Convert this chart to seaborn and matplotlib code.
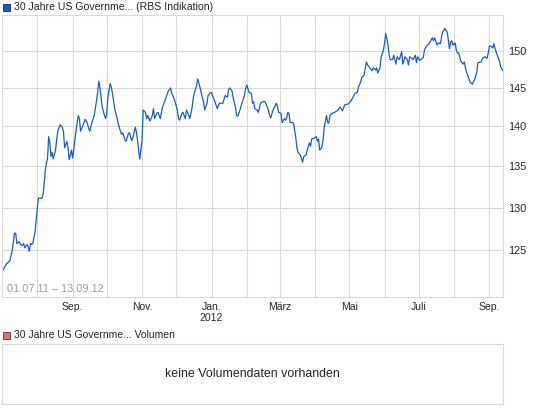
import matplotlib
matplotlib.use("Agg")
import matplotlib.pyplot as plt
import matplotlib.dates as mdates
from matplotlib.patches import Rectangle
from matplotlib.ticker import FixedLocator, FixedFormatter, NullLocator
import pandas as pd
import seaborn as sns

dates = [
    "2011-07-02", "2011-07-05", "2011-07-07", "2011-07-08", "2011-07-10", "2011-07-11", "2011-07-12", "2011-07-13",
    "2011-07-14", "2011-07-16", "2011-07-18", "2011-07-19", "2011-07-20", "2011-07-21", "2011-07-23", "2011-07-24",
    "2011-07-25", "2011-07-26", "2011-07-27", "2011-07-28", "2011-07-30", "2011-07-31",
    "2011-08-01", "2011-08-02", "2011-08-05", "2011-08-06", "2011-08-07", "2011-08-08", "2011-08-09", "2011-08-10",
    "2011-08-11", "2011-08-12", "2011-08-13", "2011-08-14", "2011-08-15", "2011-08-17", "2011-08-18", "2011-08-19",
    "2011-08-21", "2011-08-23", "2011-08-24", "2011-08-25", "2011-08-27", "2011-08-28", "2011-08-29", "2011-08-31",
    "2011-09-01", "2011-09-02", "2011-09-03", "2011-09-05", "2011-09-06", "2011-09-07", "2011-09-08", "2011-09-10",
    "2011-09-12", "2011-09-14", "2011-09-15", "2011-09-16", "2011-09-18", "2011-09-20", "2011-09-22", "2011-09-23",
    "2011-09-24", "2011-09-25", "2011-09-26", "2011-09-27", "2011-09-29", "2011-09-30",
    "2011-10-01", "2011-10-02", "2011-10-04", "2011-10-05", "2011-10-06", "2011-10-07", "2011-10-08", "2011-10-10",
    "2011-10-11", "2011-10-13", "2011-10-14", "2011-10-15", "2011-10-17", "2011-10-18", "2011-10-20", "2011-10-21",
    "2011-10-22", "2011-10-23", "2011-10-24", "2011-10-26", "2011-10-27", "2011-10-28", "2011-10-29", "2011-10-30",
    "2011-10-31",
    "2011-11-01", "2011-11-02", "2011-11-04", "2011-11-05", "2011-11-06", "2011-11-08", "2011-11-10", "2011-11-11",
    "2011-11-12", "2011-11-14", "2011-11-15", "2011-11-17", "2011-11-19", "2011-11-21", "2011-11-24", "2011-11-26",
    "2011-11-27", "2011-11-28", "2011-11-30",
    "2011-12-02", "2011-12-03", "2011-12-04", "2011-12-06", "2011-12-07", "2011-12-09", "2011-12-10", "2011-12-11",
    "2011-12-13", "2011-12-15", "2011-12-16", "2011-12-17", "2011-12-19", "2011-12-20", "2011-12-22", "2011-12-24",
    "2011-12-25", "2011-12-26", "2011-12-28", "2011-12-29", "2011-12-31",
    "2012-01-01", "2012-01-02", "2012-01-04", "2012-01-06", "2012-01-08", "2012-01-10", "2012-01-11", "2012-01-13",
    "2012-01-15", "2012-01-16", "2012-01-17", "2012-01-19", "2012-01-20", "2012-01-22", "2012-01-23", "2012-01-24",
    "2012-01-26", "2012-01-28", "2012-01-30", "2012-01-31",
    "2012-02-01", "2012-02-03", "2012-02-05", "2012-02-06", "2012-02-07", "2012-02-08", "2012-02-10", "2012-02-11",
    "2012-02-12", "2012-02-13", "2012-02-15", "2012-02-17", "2012-02-19", "2012-02-20", "2012-02-21", "2012-02-22",
    "2012-02-24", "2012-02-27", "2012-02-28", "2012-02-29",
    "2012-03-02", "2012-03-03", "2012-03-05", "2012-03-06", "2012-03-07", "2012-03-08", "2012-03-09", "2012-03-10",
    "2012-03-12", "2012-03-13", "2012-03-15", "2012-03-16", "2012-03-17", "2012-03-19", "2012-03-20", "2012-03-21",
    "2012-03-22", "2012-03-24", "2012-03-25", "2012-03-26", "2012-03-27", "2012-03-28", "2012-03-29", "2012-03-31",
    "2012-04-02", "2012-04-03", "2012-04-04", "2012-04-05", "2012-04-07", "2012-04-08", "2012-04-09", "2012-04-11",
    "2012-04-12", "2012-04-13", "2012-04-14", "2012-04-16", "2012-04-18", "2012-04-21", "2012-04-23", "2012-04-25",
    "2012-04-27", "2012-04-30",
    "2012-05-02", "2012-05-04", "2012-05-06", "2012-05-08", "2012-05-09", "2012-05-11", "2012-05-12", "2012-05-14",
    "2012-05-16", "2012-05-17", "2012-05-19", "2012-05-21", "2012-05-22", "2012-05-24", "2012-05-25", "2012-05-26",
    "2012-05-28", "2012-05-29", "2012-05-31",
    "2012-06-01", "2012-06-02", "2012-06-03", "2012-06-04", "2012-06-05", "2012-06-06", "2012-06-08", "2012-06-09",
    "2012-06-11", "2012-06-12", "2012-06-14", "2012-06-16", "2012-06-17", "2012-06-19", "2012-06-21", "2012-06-22",
    "2012-06-23", "2012-06-25", "2012-06-26", "2012-06-28", "2012-06-29", "2012-06-30",
    "2012-07-02", "2012-07-05", "2012-07-06", "2012-07-08", "2012-07-10", "2012-07-13", "2012-07-14", "2012-07-15",
    "2012-07-17", "2012-07-18", "2012-07-20", "2012-07-21", "2012-07-22", "2012-07-24", "2012-07-26", "2012-07-27",
    "2012-07-28", "2012-07-29", "2012-07-30", "2012-07-31",
    "2012-08-02", "2012-08-03", "2012-08-04", "2012-08-05", "2012-08-07", "2012-08-09", "2012-08-10", "2012-08-11",
    "2012-08-12", "2012-08-13", "2012-08-15", "2012-08-17", "2012-08-18", "2012-08-19", "2012-08-21", "2012-08-22",
    "2012-08-25", "2012-08-26", "2012-08-28", "2012-08-30", "2012-08-31",
    "2012-09-01", "2012-09-02", "2012-09-04", "2012-09-05", "2012-09-06", "2012-09-08", "2012-09-09", "2012-09-10",
    "2012-09-11", "2012-09-13",
]
prices = [
    122.8, 123.5, 123.7, 123.9, 125.0, 126.0, 127.0, 127.0,
    125.8, 126.0, 125.6, 125.6, 125.8, 125.3, 125.7, 125.4,
    124.9, 125.8, 125.7, 125.8, 127.1, 128.5,
    129.9, 131.1, 131.1, 131.5, 132.8, 134.5, 135.4, 136.0,
    138.7, 138.0, 136.2, 136.7, 135.9, 137.0, 138.3, 139.4,
    140.2, 139.9, 139.3, 137.3, 138.1, 137.3, 135.8, 137.0,
    136.0, 137.0, 138.3, 140.5, 141.4, 141.0, 139.4, 140.1,
    140.9, 140.4, 139.8, 139.4, 140.5, 141.4, 143.3, 144.4,
    145.9, 145.1, 143.8, 142.5, 141.4, 141.0,
    141.7, 143.8, 145.6, 145.1, 144.3, 143.3, 142.3, 141.1,
    140.4, 139.4, 139.0, 139.2, 138.3, 138.1, 139.1, 139.2,
    138.6, 138.2, 138.6, 139.9, 139.3, 138.3, 137.0, 135.9,
    137.0,
    138.3, 142.1, 141.8, 141.0, 141.4, 140.7, 141.4, 142.3,
    141.0, 141.7, 141.8, 141.0, 142.5, 143.3, 144.6, 145.0,
    144.3, 144.0, 143.2,
    142.1, 141.0, 140.8, 141.7, 141.8, 141.0, 142.1, 141.8,
    141.0, 142.5, 143.7, 144.4, 145.4, 146.2, 145.0, 143.7,
    143.2, 142.1, 143.0, 144.0, 144.4,
    144.4, 144.0, 143.2, 142.3, 143.0, 143.0, 143.0, 144.0,
    143.8, 144.8, 145.0, 144.6, 143.7, 142.5, 141.4, 141.3,
    142.1, 143.2, 144.0, 145.0,
    145.4, 144.4, 144.3, 143.0, 143.2, 142.3, 142.1, 141.8,
    142.3, 143.0, 143.2, 143.2, 142.5, 142.1, 141.4, 141.1,
    142.1, 143.0, 142.5, 141.8,
    141.7, 140.5, 141.0, 140.8, 141.1, 141.8, 141.7, 140.5,
    140.5, 140.4, 138.6, 137.3, 136.7, 136.4, 136.0, 135.5,
    136.2, 136.4, 137.0, 137.4, 137.9, 137.5, 138.4, 138.5,
    138.7, 138.1, 138.4, 137.0, 137.4, 138.3, 139.9, 141.4,
    140.5, 140.4, 141.4, 141.7, 141.8, 142.1, 142.5, 142.0,
    142.8, 142.9,
    143.2, 143.7, 144.3, 144.4, 145.1, 145.8, 146.4, 146.7,
    148.5, 148.1, 147.7, 147.3, 147.7, 147.4, 147.7, 147.0,
    147.7, 149.2, 150.1,
    151.1, 152.4, 151.7, 150.8, 149.4, 148.8, 148.8, 149.4,
    148.2, 149.2, 148.8, 149.9, 148.2, 149.2, 148.8, 148.1,
    149.2, 149.0, 148.8, 149.4, 148.4, 149.2,
    148.7, 149.1, 150.1, 150.7, 151.0, 151.8, 151.4, 151.8,
    150.8, 151.1, 151.0, 151.9, 152.6, 153.1, 152.6, 151.5,
    150.3, 151.2, 151.4, 150.8,
    151.1, 150.1, 149.7, 149.7, 148.6, 148.2, 148.5, 147.7,
    147.1, 146.7, 145.8, 145.5, 145.8, 146.1, 147.1, 148.4,
    148.5, 149.0, 149.2, 149.0, 149.7,
    150.6, 150.7, 150.4, 151.0, 150.3, 149.4, 149.0, 148.5,
    147.8, 147.3,
]

y_ticks = [125, 130, 135, 140, 145, 150]
month_lines = ["2011-08-01", "2011-09-01", "2011-10-01", "2011-11-01", "2011-12-01", "2012-01-01",
               "2012-02-01", "2012-03-01", "2012-04-01", "2012-05-01", "2012-06-01", "2012-07-01",
               "2012-08-01", "2012-09-01"]
label_dates = ["2011-09-01", "2011-11-01", "2012-01-01", "2012-03-01", "2012-05-01", "2012-07-01", "2012-09-01"]
label_texts = ["Sep.", "Nov.", "Jan.\n2012", "März", "Mai", "Juli", "Sep."]

title = "30 Jahre US Governme... (RBS Indikation)"
range_text = "01.07.11 \u2013 13.09.12"
vol_title = "30 Jahre US Governme... Volumen"
vol_text = "keine Volumendaten vorhanden"

sns.set_style("white")
plt.rcParams['font.family'] = ['Liberation Sans', 'DejaVu Sans']

grid_c = "#d9d9d9"
line_c = "#1c5bc5"
W, H = 545, 413

fig = plt.figure(figsize=(W / 100, H / 100), dpi=100)
ax = fig.add_axes([2 / W, 1 - 297 / H, 501 / W, 282 / H])

df = pd.DataFrame({"Datum": pd.to_datetime(dates), "Kurs": prices})
sns.lineplot(data=df, x="Datum", y="Kurs", ax=ax, color=line_c, linewidth=0.9)

ax.set_yscale("log")
ax.set_ylim(119.8, 155.0)
ax.set_xlim(pd.Timestamp("2011-07-01"), pd.Timestamp("2012-09-13"))
ax.set_xlabel("")
ax.set_ylabel("")

ax.yaxis.tick_right()
ax.yaxis.set_major_locator(FixedLocator(y_ticks))
ax.yaxis.set_major_formatter(FixedFormatter([str(t) for t in y_ticks]))
ax.yaxis.set_minor_locator(NullLocator())

ax.xaxis.set_major_locator(FixedLocator(mdates.date2num(pd.to_datetime(label_dates))))
ax.xaxis.set_major_formatter(FixedFormatter(label_texts))
ax.xaxis.set_minor_locator(FixedLocator(mdates.date2num(pd.to_datetime(month_lines))))

ax.grid(True, which="both", axis="x", color=grid_c, linewidth=0.8)
ax.grid(True, which="major", axis="y", color=grid_c, linewidth=0.8)
ax.set_axisbelow(True)
ax.tick_params(axis="x", which="both", length=2, color=grid_c, pad=1.5, labelsize=7.5)
ax.tick_params(axis="y", length=0, pad=4, labelsize=7.8)
for s in ax.spines.values():
    s.set_color(grid_c)
    s.set_linewidth(0.8)

ax.text(0.01, 0.028, range_text, transform=ax.transAxes, color="#a0a0a0",
        fontsize=7.9, ha="left", va="center")

# Legende oben
fig.add_artist(Rectangle((3 / W, 1 - 11 / H), 7 / W, 7 / H, transform=fig.transFigure,
                         facecolor="#1d5bbf", edgecolor="#0d2a66", linewidth=0.6))
fig.text(14 / W, 1 - 7 / H, title, ha="left", va="center", fontsize=7.6)

# Volumen-Panel
vax = fig.add_axes([2 / W, 1 - 404 / H, 501 / W, 60 / H])
vax.set_xticks([])
vax.set_yticks([])
for s in vax.spines.values():
    s.set_color(grid_c)
    s.set_linewidth(0.8)
vax.text(0.5, 0.5, vol_text, transform=vax.transAxes, ha="center", va="center", fontsize=8.9)

fig.add_artist(Rectangle((3 / W, 1 - 339 / H), 7 / W, 7 / H, transform=fig.transFigure,
                         facecolor="#e07070", edgecolor="#7a2b2b", linewidth=0.6))
fig.text(14 / W, 1 - 335 / H, vol_title, ha="left", va="center", fontsize=7.5)

fig.savefig("out.png", dpi=100)
